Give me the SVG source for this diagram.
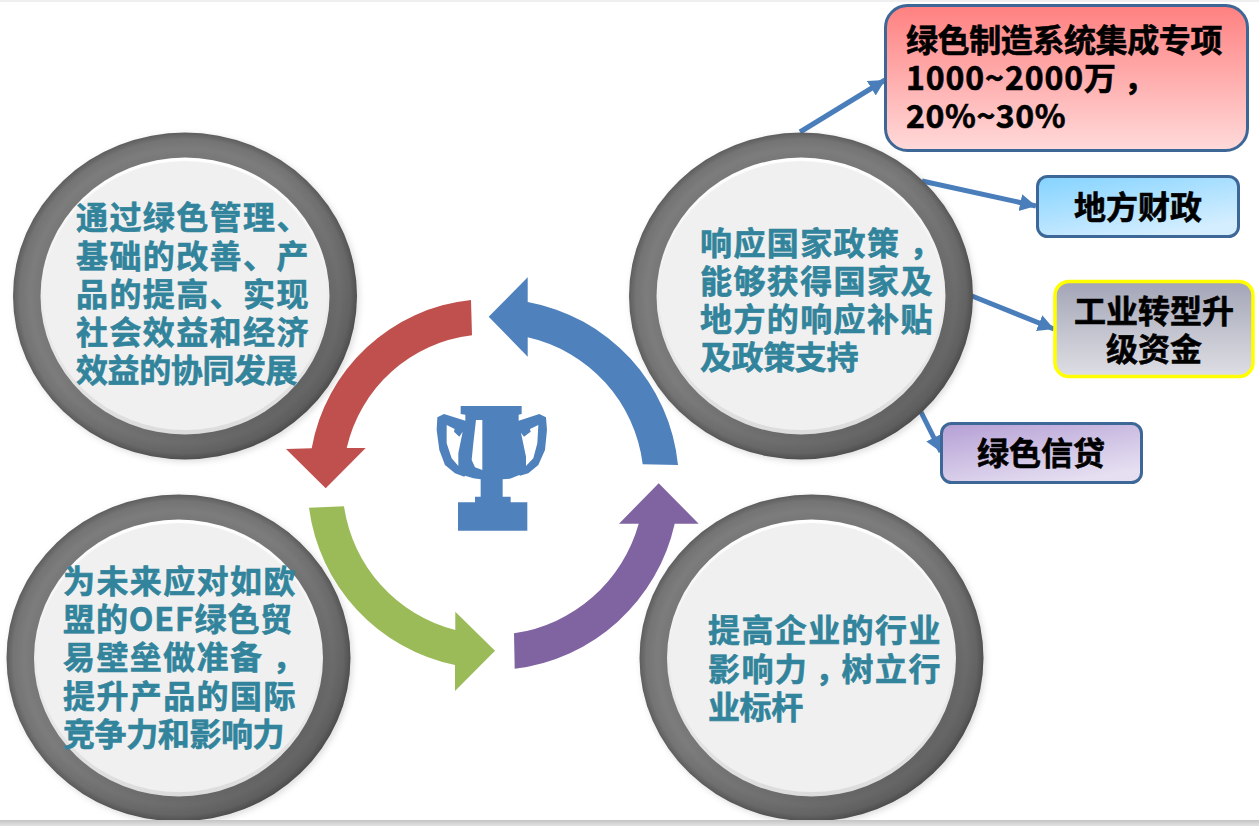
<svg xmlns="http://www.w3.org/2000/svg" width="1259" height="826" viewBox="0 0 1259 826">
<style>
text{font-family:"Noto Sans CJK SC","Noto Sans",sans-serif;font-weight:700;font-size:32px;stroke-width:.6px}
.t{fill:#31849b;stroke:#31849b}
.j{letter-spacing:1.4px}
.l{letter-spacing:-.4px}
.b{fill:#000;stroke:#000}
.m{text-anchor:middle}
.box{stroke:#3d6797;stroke-width:3}
.conn{fill:none;stroke:#4a7ebb;stroke-width:5}
</style>
<defs>
<radialGradient id="ring"><stop offset=".8" stop-color="#747474"/><stop offset=".9" stop-color="#7c7c7c"/><stop offset=".96" stop-color="#747474"/><stop offset="1" stop-color="#5e5e5e"/></radialGradient>
<linearGradient id="ringShade" x1="0" y1="0" x2="1" y2="1"><stop offset=".45" stop-color="#000" stop-opacity="0"/><stop offset=".85" stop-color="#000" stop-opacity=".2"/></linearGradient>
<linearGradient id="rim" x1="0" y1="0" x2="0" y2="1"><stop offset="0" stop-color="#fff"/><stop offset="1" stop-color="#dcdcdc"/></linearGradient>
<linearGradient id="g1" x1="0" y1="0" x2="0" y2="1"><stop offset="0" stop-color="#ff8080"/><stop offset="1" stop-color="#ffdada"/></linearGradient>
<linearGradient id="g2" x1="0" y1="0" x2=".6" y2="1"><stop offset="0" stop-color="#83d3ff"/><stop offset="1" stop-color="#d5eeff"/></linearGradient>
<linearGradient id="g3" x1="0" y1="0" x2="0" y2="1"><stop offset="0" stop-color="#a3a5b7"/><stop offset="1" stop-color="#dedfe4"/></linearGradient>
<linearGradient id="g4" x1="0" y1="0" x2=".6" y2="1"><stop offset="0" stop-color="#b59fd5"/><stop offset="1" stop-color="#e5dff1"/></linearGradient>
<linearGradient id="bar" x1="0" y1="0" x2="0" y2="1"><stop offset="0" stop-color="#c4c4c4"/><stop offset="1" stop-color="#e2e2e2"/></linearGradient>
<filter id="soft" x="-5%" y="-5%" width="110%" height="110%"><feDropShadow dx="2" dy="2" stdDeviation="3" flood-color="#000" flood-opacity=".14"/></filter>
<marker id="ah" markerUnits="userSpaceOnUse" markerWidth="18" markerHeight="18" refX="16" refY="8.500" orient="auto"><path d="M0 0L16 8.500L0 17Z" fill="#4a7ebb"/></marker>
<g id="disc"><ellipse rx="172" ry="163.500" fill="url(#ring)" filter="url(#soft)"/><ellipse rx="172" ry="163.500" fill="url(#ringShade)"/><ellipse rx="144.500" ry="138.500" fill="url(#rim)"/><ellipse rx="142" ry="134.500" cy="-.5" fill="#f0f0f0"/></g>
</defs>
<rect width="1259" height="826" fill="#fff"/>
<rect width="1259" height="2" fill="#efefef"/>
<g id="cycle-arrows">
<path id="arrow-blue" fill="#4f81bd" d="M678 465A184 184 0 0 0 527.700 302V277.300L488.700 316.700L527.700 356.700V337.300A149 149 0 0 1 642.700 464.300Z"/>
<path id="arrow-red" fill="#c0504d" d="M471 300A181 181 0 0 0 311.700 448.300L286 449L325.700 488.300L365.700 448H346.700A146 146 0 0 1 472 335.300Z"/>
<path id="arrow-green" fill="#9bbb59" d="M309 507.700A185 185 0 0 0 455 665V691L495 650.700L455.300 611.700V630A150 150 0 0 1 344 506.300Z"/>
<path id="arrow-purple" fill="#8064a2" d="M514.700 668.700A187 187 0 0 0 674.700 523.700H698.700L658.700 483.300L619 523.700H638.700A152 152 0 0 1 514 633.300Z"/>
</g>
<g id="trophy" transform="translate(420 390) scale(.3333)">
<path fill="#4f81bd" fill-rule="evenodd" d="M122 48H305V72L296 74V92L358 72L378 82L381 120L375 180L355 225L325 250L300 257L298 255L270 266L248 268V320H272V337H322V422H114V337H165V320H182V268L160 265L135 257L133 260L105 250L75 225L58 180L50 120L52 82L72 72L136 92V74L122 72ZM80 105L104 117L102 125L118 140L128 125L115 190V228L95 205L80 160ZM355 105L330 117L332 125L312 140L303 128L318 200V228L340 205L352 160ZM168 90H187V240L165 232L155 210L160 160Z"/>
</g>
<g id="connectors">
<line class="conn" x1="800" y1="132" x2="885" y2="80" marker-end="url(#ah)"/>
<line class="conn" x1="922" y1="181" x2="1036" y2="206" marker-end="url(#ah)"/>
<line class="conn" x1="972" y1="296" x2="1054" y2="329" marker-end="url(#ah)"/>
<line class="conn" x1="921" y1="412" x2="941" y2="452" marker-end="url(#ah)"/>
</g>
<g id="node-top-left">
<use href="#disc" x="185" y="296"/>
<text class="t j" x="76" y="229">通过绿色管理、</text>
<text class="t j" x="76" y="268">基础的改善、产</text>
<text class="t j" x="76" y="306">品的提高、实现</text>
<text class="t j" x="76" y="344">社会效益和经济</text>
<text class="t l" x="76" y="382">效益的协同发展</text>
</g>
<g id="node-top-right">
<use href="#disc" x="801" y="296"/>
<text class="t j" x="700" y="255">响应国家政策<tspan dx="9">，</tspan></text>
<text class="t j" x="700" y="293">能够获得国家及</text>
<text class="t j" x="700" y="331">地方的响应补贴</text>
<text class="t l" x="700" y="369">及政策支持</text>
</g>
<g id="node-bottom-left">
<use href="#disc" x="178.500" y="658"/>
<text class="t j" x="63" y="593">为未来应对如欧</text>
<text class="t j" x="63" y="631" style="letter-spacing:.9px">盟的OEF绿色贸</text>
<text class="t j" x="63" y="669">易壁垒做准备<tspan dx="9">，</tspan></text>
<text class="t j" x="63" y="708">提升产品的国际</text>
<text class="t l" x="63" y="746">竞争力和影响力</text>
</g>
<g id="node-bottom-right">
<use href="#disc" x="811.500" y="658"/>
<text class="t j" x="708" y="642">提高企业的行业</text>
<text class="t j" x="708" y="681">影响力<tspan dx="7">，</tspan><tspan dx="-7">树立行</tspan></text>
<text class="t l" x="708" y="719">业标杆</text>
</g>
<g id="node-special-fund">
<rect class="box" x="885.500" y="5.500" width="362" height="145" rx="22" fill="url(#g1)"/>
<text class="b l" x="906" y="52">绿色制造系统集成专项</text>
<text class="b" x="906" y="90" style="letter-spacing:.9px">1000~2000万<tspan dx="7">，</tspan></text>
<text class="b" x="906" y="128" style="letter-spacing:.6px">20%~30%</text>
</g>
<g id="node-local-finance">
<rect class="box" x="1037.500" y="176.500" width="201" height="60" rx="10" fill="url(#g2)"/>
<text class="b m" x="1138" y="219">地方财政</text>
</g>
<g id="node-transition-fund">
<rect x="1055" y="281.500" width="198" height="95" rx="14" fill="url(#g3)" stroke="#ffff00" stroke-width="3.500"/>
<text class="b m" x="1154" y="323">工业转型升</text>
<text class="b m" x="1154" y="361">级资金</text>
</g>
<g id="node-green-credit">
<rect class="box" x="941.500" y="423.500" width="200" height="59" rx="10" fill="url(#g4)"/>
<text class="b m" x="1041" y="465">绿色信贷</text>
</g>
<rect id="bottom-band" y="820" width="1259" height="6" fill="url(#bar)"/>
</svg>
